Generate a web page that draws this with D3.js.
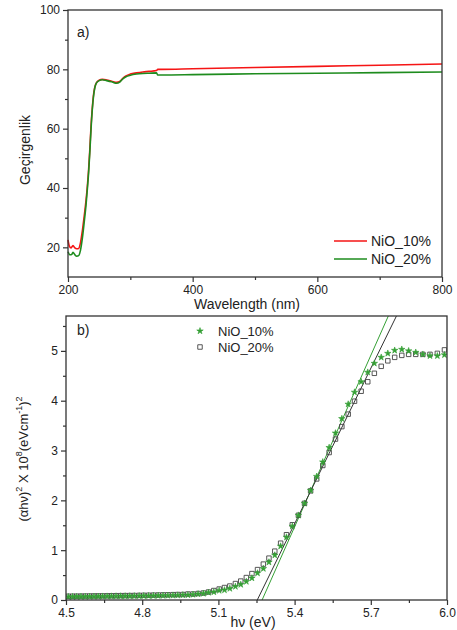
<!DOCTYPE html>
<html>
<head>
<meta charset="utf-8">
<script src="https://cdn.jsdelivr.net/npm/d3@7"></script>
<style>
  body { margin: 0; background: #fff; }
  text { font-family: "Liberation Sans", Arial, sans-serif; fill: #222; }
</style>
</head>
<body>
<div id="root"></div>
<script>
// ---- panel a) transmittance ----
var wlRed = [200, 202, 205, 208, 211, 214, 217, 220, 223, 226, 229, 231, 233, 235, 237, 239, 241, 243, 246, 250, 255, 262, 270, 278, 283, 288, 293, 300, 310, 320, 330, 342, 344, 350, 400, 500, 600, 700, 800];
var tRed = [22.5, 20.5, 19.8, 20.6, 19.8, 19.5, 19.6, 21.5, 25.5, 30.5, 36, 40.5, 46, 53, 61, 67, 71.5, 74, 75.6, 76.3, 76.6, 76.4, 76.0, 75.6, 75.9, 77.0, 77.8, 78.4, 78.8, 79.1, 79.3, 79.6, 80.0, 80.0, 80.2, 80.6, 81.0, 81.4, 81.8];
var wlGreen = [200, 203, 206, 208, 211, 214, 217, 220, 223, 226, 229, 231, 233, 235, 237, 239, 241, 243, 246, 250, 255, 262, 270, 278, 283, 288, 293, 300, 310, 320, 330, 342, 344, 350, 400, 500, 600, 700, 800];
var tGreen = [18.5, 17.5, 17.6, 18.3, 17.5, 17.0, 17.2, 19, 23, 28.5, 34.5, 39.5, 45, 52, 60, 66.5, 71, 73.8, 75.5, 76.2, 76.5, 76.2, 75.8, 75.3, 75.7, 76.8, 77.5, 78.0, 78.4, 78.6, 78.7, 78.8, 78.1, 78.1, 78.2, 78.5, 78.7, 78.9, 79.1];
var seriesA = ["NiO_10%", "NiO_20%"];
var xTicksA = [200, 400, 600, 800];
var yTicksA = [20, 40, 60, 80, 100];

// ---- panel b) Tauc plot ----
var hv = [4.509, 4.526, 4.542, 4.559, 4.576, 4.593, 4.610, 4.627, 4.644, 4.662, 4.679, 4.697, 4.715, 4.733, 4.751, 4.769, 4.788, 4.806, 4.825, 4.844, 4.863, 4.882, 4.901, 4.921, 4.940, 4.960, 4.980, 5.000, 5.020, 5.041, 5.061, 5.082, 5.103, 5.124, 5.145, 5.167, 5.188, 5.210, 5.232, 5.254, 5.277, 5.299, 5.322, 5.345, 5.368, 5.391, 5.415, 5.439, 5.463, 5.487, 5.511, 5.536, 5.561, 5.586, 5.611, 5.636, 5.662, 5.688, 5.714, 5.741, 5.767, 5.794, 5.822, 5.849, 5.877, 5.905, 5.933, 5.962, 5.990];
var tauc10 = [0.065, 0.066, 0.067, 0.068, 0.069, 0.070, 0.071, 0.072, 0.073, 0.074, 0.075, 0.076, 0.077, 0.078, 0.079, 0.080, 0.081, 0.082, 0.083, 0.085, 0.087, 0.089, 0.091, 0.093, 0.095, 0.10, 0.10, 0.11, 0.12, 0.13, 0.15, 0.16, 0.19, 0.20, 0.23, 0.27, 0.31, 0.37, 0.44, 0.54, 0.63, 0.76, 0.90, 1.08, 1.26, 1.48, 1.70, 1.94, 2.20, 2.48, 2.77, 3.06, 3.35, 3.64, 3.93, 4.17, 4.38, 4.57, 4.75, 4.87, 4.95, 5.01, 5.03, 5.00, 4.97, 4.93, 4.90, 4.90, 4.92];
var tauc20 = [0.075, 0.076, 0.077, 0.078, 0.079, 0.080, 0.081, 0.082, 0.083, 0.084, 0.085, 0.086, 0.087, 0.088, 0.089, 0.090, 0.092, 0.094, 0.096, 0.098, 0.100, 0.102, 0.104, 0.107, 0.11, 0.11, 0.12, 0.12, 0.13, 0.14, 0.16, 0.19, 0.22, 0.25, 0.28, 0.33, 0.38, 0.45, 0.53, 0.61, 0.72, 0.84, 0.98, 1.14, 1.31, 1.51, 1.70, 1.94, 2.19, 2.43, 2.70, 2.96, 3.23, 3.48, 3.73, 3.99, 4.19, 4.38, 4.55, 4.69, 4.80, 4.87, 4.91, 4.93, 4.93, 4.93, 4.93, 4.95, 5.02];
// linear fits: [hv, value] end points
var fit10 = [[5.272, 0], [5.769, 5.7]];
var fit20 = [[5.253, 0], [5.801, 5.7]];
var xTicksB = [4.5, 4.8, 5.1, 5.4, 5.7, 6.0];
var yTicksB = [0, 1, 2, 3, 4, 5];

var W = 457, H = 630;
var svg = d3.select("#root").append("svg")
    .attr("width", W)
    .attr("height", H);

var red = "#f51515", green = "#1e8c1e", starGreen = "#35a035", frameColor = "#333";

function frame(g, x, y) {
    g.append("rect")
        .attr("x", x.range()[0]).attr("y", y.range()[1])
        .attr("width", x.range()[1] - x.range()[0])
        .attr("height", y.range()[0] - y.range()[1])
        .attr("fill", "none").attr("stroke", frameColor).attr("stroke-width", 1.3);
}

function axes(g, x, y, xt, yt, xMinor, yMinor, xFmt, yFmt) {
    // minor ticks first, majors with labels on top
    var xa = g.append("g").attr("transform", "translate(0," + y.range()[0] + ")");
    xa.call(d3.axisBottom(x).tickValues(xMinor).tickSize(3).tickFormat(""));
    xa.append("g").call(d3.axisBottom(x).tickValues(xt).tickSize(5).tickPadding(3).tickFormat(xFmt));
    var ya = g.append("g").attr("transform", "translate(" + x.range()[0] + ",0)");
    ya.call(d3.axisLeft(y).tickValues(yMinor).tickSize(3).tickFormat(""));
    ya.append("g").call(d3.axisLeft(y).tickValues(yt).tickSize(5).tickPadding(3).tickFormat(yFmt));
    g.selectAll(".domain").remove();
    g.selectAll(".tick line").attr("stroke", frameColor).attr("stroke-width", 1.2);
    g.selectAll(".tick text").attr("font-size", 12).attr("fill", "#222")
        .attr("font-family", "Liberation Sans, Arial, sans-serif");
}

// ===== panel a =====
var xa = d3.scaleLinear().domain([200, 800]).range([68, 442]);
var ya = d3.scaleLinear().domain([10, 100]).range([277, 10]);
var ga = svg.append("g");

axes(ga, xa, ya, xTicksA, yTicksA, [300, 500, 700], [30, 50, 70, 90], d3.format("d"), d3.format("d"));

var lineA = d3.line().x(function (d) { return xa(d[0]); }).y(function (d) { return ya(d[1]); })
    .curve(d3.curveMonotoneX);
var redData = wlRed.map(function (w, i) { return [w, tRed[i]]; });
var greenData = wlGreen.map(function (w, i) { return [w, tGreen[i]]; });

ga.append("path").datum(redData).attr("d", lineA)
    .attr("fill", "none").attr("stroke", red).attr("stroke-width", 1.6);
ga.append("path").datum(greenData).attr("d", lineA)
    .attr("fill", "none").attr("stroke", green).attr("stroke-width", 1.6);

frame(ga, xa, ya);

ga.append("text").attr("x", 77).attr("y", 37).attr("font-size", 14).text("a)");
ga.append("text").attr("x", 247).attr("y", 309).attr("text-anchor", "middle")
    .attr("font-size", 14).text("Wavelength (nm)");
ga.append("text").attr("transform", "translate(30,150) rotate(-90)")
    .attr("text-anchor", "middle").attr("font-size", 14).text("Geçirgenlik");

// legend a
var legA = ga.append("g");
[red, green].forEach(function (c, i) {
    var yy = 241 + i * 18;
    legA.append("line").attr("x1", 334).attr("x2", 367).attr("y1", yy).attr("y2", yy)
        .attr("stroke", c).attr("stroke-width", 1.6);
    legA.append("text").attr("x", 371).attr("y", yy + 5).attr("font-size", 14).text(seriesA[i]);
});

// ===== panel b =====
var xb = d3.scaleLinear().domain([4.5, 6.0]).range([66, 447]);
var yb = d3.scaleLinear().domain([0, 5.7]).range([600, 316]);
var gb = svg.append("g");

axes(gb, xb, yb, xTicksB, yTicksB, [4.65, 4.95, 5.25, 5.55, 5.85], [0.5, 1.5, 2.5, 3.5, 4.5, 5.5],
    d3.format(".1f"), d3.format("d"));

gb.append("clipPath").attr("id", "clipb").append("rect")
    .attr("x", 66).attr("y", 316).attr("width", 381).attr("height", 284);

var lineB = d3.line().x(function (d) { return xb(d[0]); }).y(function (d) { return yb(d[1]); });
gb.append("path").datum(fit10).attr("d", lineB).attr("clip-path", "url(#clipb)")
    .attr("fill", "none").attr("stroke", starGreen).attr("stroke-width", 1);
gb.append("path").datum(fit20).attr("d", lineB).attr("clip-path", "url(#clipb)")
    .attr("fill", "none").attr("stroke", "#333").attr("stroke-width", 1);

var star = d3.symbol().type(d3.symbolStar).size(13);
var square = d3.symbol().type(d3.symbolSquare).size(20);

var pts20 = hv.map(function (h, i) { return [h, tauc20[i]]; });
var pts10 = hv.map(function (h, i) { return [h, tauc10[i]]; });

gb.append("g").attr("clip-path", "url(#clipb)").selectAll("path")
    .data(pts20).enter().append("path")
    .attr("d", square)
    .attr("transform", function (d) { return "translate(" + xb(d[0]) + "," + yb(d[1]) + ")"; })
    .attr("fill", "none").attr("stroke", "#444").attr("stroke-width", 0.9);

gb.append("g").attr("clip-path", "url(#clipb)").selectAll("path")
    .data(pts10).enter().append("path")
    .attr("d", star)
    .attr("transform", function (d) { return "translate(" + xb(d[0]) + "," + yb(d[1]) + ")"; })
    .attr("fill", starGreen).attr("stroke", starGreen).attr("stroke-width", 0.6);

frame(gb, xb, yb);

gb.append("text").attr("x", 77).attr("y", 335).attr("font-size", 14).text("b)");

// legend b
gb.append("path").attr("d", star).attr("transform", "translate(200,331)")
    .attr("fill", starGreen).attr("stroke", starGreen).attr("stroke-width", 0.6);
gb.append("path").attr("d", square).attr("transform", "translate(200,347)")
    .attr("fill", "none").attr("stroke", "#444").attr("stroke-width", 0.9);
gb.append("text").attr("x", 218).attr("y", 336).attr("font-size", 13).text(seriesA[0]);
gb.append("text").attr("x", 218).attr("y", 352).attr("font-size", 13).text(seriesA[1]);

// axis titles b
gb.append("text").attr("x", 253).attr("y", 627).attr("text-anchor", "middle")
    .attr("font-size", 14).text("hν (eV)");

var yl = gb.append("text").attr("transform", "translate(28,459) rotate(-90)")
    .attr("text-anchor", "middle").attr("font-size", 13);
yl.append("tspan").text("(αhν)");
yl.append("tspan").attr("dy", -6).attr("font-size", 9).text("2");
yl.append("tspan").attr("dy", 6).text(" X 10");
yl.append("tspan").attr("dy", -6).attr("font-size", 9).text("8");
yl.append("tspan").attr("dy", 6).text("(eVcm");
yl.append("tspan").attr("dy", -6).attr("font-size", 9).text("-1");
yl.append("tspan").attr("dy", 6).text(")");
yl.append("tspan").attr("dy", -6).attr("font-size", 9).text("2");
</script>
</body>
</html>
